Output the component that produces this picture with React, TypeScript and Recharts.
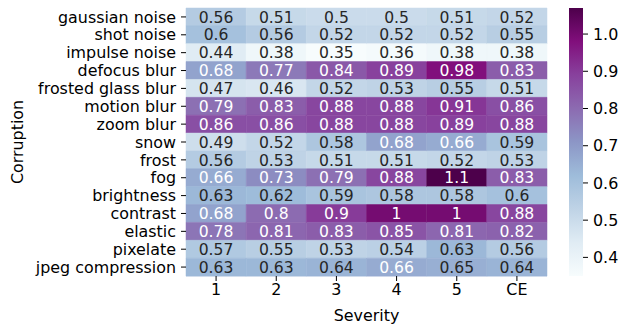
import { BarChart, Bar, XAxis, YAxis, Cell, LabelList, Label } from "recharts"

const corruptions = [
  "gaussian noise",
  "shot noise",
  "impulse noise",
  "defocus blur",
  "frosted glass blur",
  "motion blur",
  "zoom blur",
  "snow",
  "frost",
  "fog",
  "brightness",
  "contrast",
  "elastic",
  "pixelate",
  "jpeg compression",
]

const severities = ["1", "2", "3", "4", "5", "CE"]

// one array per column, rows in the order of `corruptions`
const sev1 = [0.56, 0.6, 0.44, 0.68, 0.47, 0.79, 0.86, 0.49, 0.56, 0.66, 0.63, 0.68, 0.78, 0.57, 0.63]
const sev2 = [0.51, 0.56, 0.38, 0.77, 0.46, 0.83, 0.86, 0.52, 0.53, 0.73, 0.62, 0.8, 0.81, 0.55, 0.63]
const sev3 = [0.5, 0.52, 0.35, 0.84, 0.52, 0.88, 0.88, 0.58, 0.51, 0.79, 0.59, 0.9, 0.83, 0.53, 0.64]
const sev4 = [0.5, 0.52, 0.36, 0.89, 0.53, 0.88, 0.88, 0.68, 0.51, 0.88, 0.58, 1.0, 0.85, 0.54, 0.66]
const sev5 = [0.51, 0.52, 0.38, 0.98, 0.55, 0.91, 0.89, 0.66, 0.52, 1.07, 0.58, 1.0, 0.81, 0.63, 0.65]
const ce = [0.52, 0.55, 0.38, 0.83, 0.51, 0.86, 0.88, 0.59, 0.53, 0.83, 0.6, 0.88, 0.82, 0.56, 0.64]

const columns = [sev1, sev2, sev3, sev4, sev5, ce]

const colorbarTicks = [0.4, 0.5, 0.6, 0.7, 0.8, 0.9, 1.0]

const allValues = columns.flat()
const vmin = Math.min(...allValues)
const vmax = Math.max(...allValues)

// matplotlib BuPu
const bupu = ["#f7fcfd", "#e0ecf4", "#bfd3e6", "#9ebcda", "#8c96c6", "#8c6bb1", "#88419d", "#810f7c", "#4d004b"]

const hexToRgb = (h: string) => [1, 3, 5].map((i) => parseInt(h.slice(i, i + 2), 16))

const colorRgb = (v: number) => {
  const t = Math.max(0, Math.min(1, (v - vmin) / (vmax - vmin))) * (bupu.length - 1)
  const i = Math.min(Math.floor(t), bupu.length - 2)
  const f = t - i
  const a = hexToRgb(bupu[i])
  const b = hexToRgb(bupu[i + 1])
  return a.map((c, k) => Math.round(c + (b[k] - c) * f))
}

const colorFor = (v: number) => {
  const [r, g, b] = colorRgb(v)
  return `rgb(${r},${g},${b})`
}

const luminance = (v: number) => {
  const lin = colorRgb(v).map((c) => {
    const s = c / 255
    return s <= 0.03928 ? s / 12.92 : Math.pow((s + 0.055) / 1.055, 2.4)
  })
  return 0.2126 * lin[0] + 0.7152 * lin[1] + 0.0722 * lin[2]
}

const fmt = (v: number) => String(Number(v.toPrecision(2)))

const rows = corruptions.map((name, r) => {
  const row: Record<string, string | number> = { name }
  columns.forEach((col, c) => {
    row[`s${c}`] = 1
    row[`v${c}`] = col[r]
  })
  return row
})

const FONT = "DejaVu Sans"
const FS = 15.9
const ANNOT_FS = 15.6

const CellLabel = (props: any) => {
  const { x, y, width, height, value } = props
  const fill = luminance(value) < 0.408 ? "#ffffff" : "#262626"
  return (
    <text
      x={x + width / 2}
      y={y + height / 2}
      dy="0.36em"
      textAnchor="middle"
      fill={fill}
      fontFamily={FONT}
      fontSize={ANNOT_FS}
    >
      {fmt(value)}
    </text>
  )
}

export default function App() {
  return (
    <div style={{ position: "absolute", left: 0, top: 0, width: 619, height: 327, fontFamily: FONT }}>
      <BarChart
        width={619}
        height={327}
        layout="vertical"
        data={rows}
        margin={{ top: 8, right: 72, bottom: 0, left: 6 }}
        barCategoryGap={0}
      >
        <XAxis
          type="number"
          domain={[0, severities.length]}
          ticks={severities.map((_, i) => i + 0.5)}
          tickFormatter={(v) => severities[Math.floor(v)]}
          interval={0}
          height={51}
          axisLine={false}
          tickSize={5}
          tickMargin={3}
          tickLine={{ stroke: "#000" }}
          tick={{ fill: "#000", fontSize: FS, fontFamily: FONT }}
        >
          <Label
            content={({ viewBox }: any) => (
              <text
                x={viewBox.x + viewBox.width / 2}
                y={321}
                textAnchor="middle"
                fill="#000"
                fontFamily={FONT}
                fontSize={FS}
              >
                Severity
              </text>
            )}
          />
        </XAxis>
        <YAxis
          type="category"
          dataKey="name"
          width={180}
          interval={0}
          axisLine={false}
          tickSize={5}
          tickMargin={5}
          tickLine={{ stroke: "#000" }}
          tick={{ fill: "#000", fontSize: FS, fontFamily: FONT }}
        >
          <Label
            content={({ viewBox }: any) => (
              <text
                x={23}
                y={viewBox.y + viewBox.height / 2}
                textAnchor="middle"
                transform={`rotate(-90, 23, ${viewBox.y + viewBox.height / 2})`}
                fill="#000"
                fontFamily={FONT}
                fontSize={FS}
              >
                Corruption
              </text>
            )}
          />
        </YAxis>
        {columns.map((col, c) => (
          <Bar key={c} dataKey={`s${c}`} stackId="a" isAnimationActive={false}>
            {col.map((v, r) => (
              <Cell key={r} fill={colorFor(v)} stroke={colorFor(v)} strokeWidth={0.5} />
            ))}
            <LabelList dataKey={`v${c}`} content={CellLabel} />
          </Bar>
        ))}
      </BarChart>

      <div style={{ position: "absolute", left: 569, top: 0 }}>
        <BarChart
          width={50}
          height={327}
          data={[{ name: "cb", range: [vmin, vmax] }]}
          margin={{ top: 8, right: 0, bottom: 51, left: 0 }}
          barCategoryGap={0}
          style={{ overflow: "visible" }}
        >
          <defs>
            <linearGradient id="bupuGrad" x1="0" y1="1" x2="0" y2="0">
              {bupu.map((c, i) => (
                <stop key={i} offset={`${(i / (bupu.length - 1)) * 100}%`} stopColor={c} />
              ))}
            </linearGradient>
          </defs>
          <XAxis dataKey="name" type="category" hide />
          <YAxis
            type="number"
            orientation="right"
            domain={[vmin, vmax]}
            ticks={colorbarTicks}
            tickFormatter={(v) => v.toFixed(1)}
            width={36}
            axisLine={false}
            tickSize={5}
            tickMargin={5}
            tickLine={{ stroke: "#000" }}
            tick={{ fill: "#000", fontSize: FS, fontFamily: FONT, textAnchor: "start" }}
            allowDataOverflow
          />
          <Bar dataKey="range" fill="url(#bupuGrad)" isAnimationActive={false} />
        </BarChart>
      </div>
    </div>
  )
}
